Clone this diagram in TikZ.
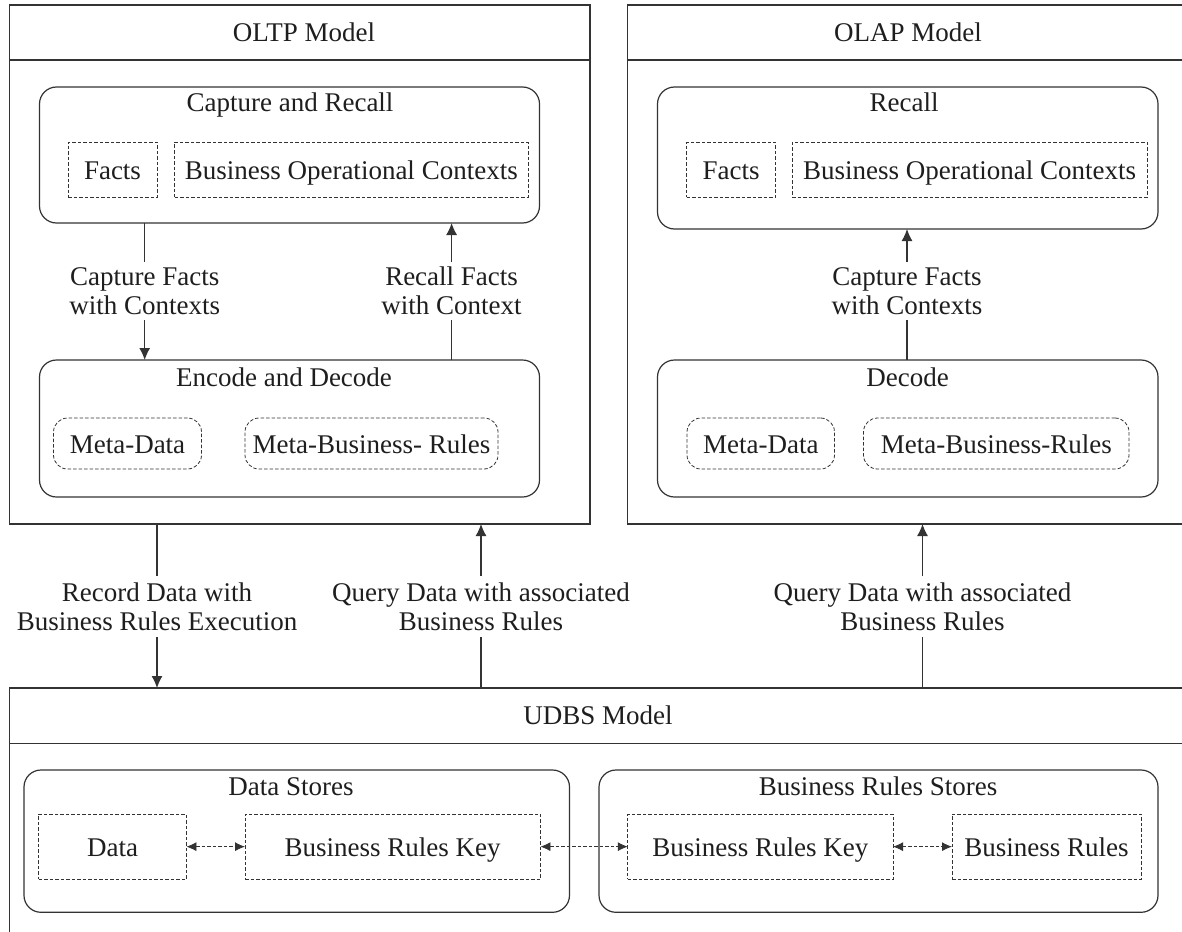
\documentclass[tikz,border=0pt]{standalone}
\usepackage{fontspec}
\setmainfont{Liberation Serif}
\usetikzlibrary{arrows.meta}
\definecolor{ln}{HTML}{333333}
\definecolor{tx}{HTML}{1E1E1E}
\begin{document}
\begin{tikzpicture}[x=1pt,y=-1pt,
  every node/.style={font=\fontsize{27}{29}\selectfont, text=tx, inner sep=0pt, outer sep=0pt},
  box/.style={draw=ln, line width=1.2pt, rectangle, anchor=north west},
  rbox/.style={box, rounded corners=17pt},
  dbox/.style={draw=ln, line width=0.8pt, dash pattern=on 3.5pt off 2pt, rectangle, anchor=north west},
  drbox/.style={dbox, rounded corners=14pt},
  ttl/.style={anchor=base},
  inner/.style={anchor=base, yshift=-9.5pt},
  lbla/.style={align=center, minimum height=58pt},
  lblb/.style={align=center, minimum height=61pt},
  arr/.style={draw=ln, line width=1.2pt, -{Latex[length=12pt,width=11pt]}},
  conn/.style={draw=ln, line width=1.2pt},
  darr/.style={draw=ln, line width=0.8pt, dash pattern=on 3.5pt off 2pt, {Latex[length=10pt,width=9pt]}-{Latex[length=10pt,width=9pt]}}
]
\useasboundingbox (0,0) rectangle (1182,931);
\clip (0,0) rectangle (1182,931);

% ---------- OLTP ----------
\node[box, minimum width=580.5pt, minimum height=519pt] (oltp) at (9.5,5) {};
\node[box, minimum width=580.5pt, minimum height=55pt] (oltph) at (9.5,5) {};
\node[ttl] (oltpt) at (304,41.5) {OLTP Model};

\node[rbox, minimum width=500pt, minimum height=136pt] (cr) at (39.5,87) {};
\node[ttl] (crt) at (290,112) {Capture and Recall};
\node[dbox, minimum width=89pt, minimum height=55pt] (facts1) at (68,142) {};
\node[inner] at (facts1.center) {Facts};
\node[dbox, minimum width=353.5pt, minimum height=55pt] (boc1) at (174.5,142) {};
\node[inner] at (boc1.center) {Business Operational Contexts};

\node[rbox, minimum width=500pt, minimum height=137pt] (ed) at (39.5,360) {};
\node[ttl] (edt) at (284,386) {Encode and Decode};
\node[drbox, minimum width=148pt, minimum height=51pt] (md1) at (53.5,418) {};
\node[inner] at (md1.center) {Meta-Data};
\node[drbox, minimum width=253pt, minimum height=51pt] (mbr1) at (245,418) {};
\node[inner] at (mbr1.center) {Meta-Business- Rules};

\node[lbla] (lblA) at (144.7,291) {Capture Facts\\with Contexts};
\draw[conn] (cr.south -| lblA) -- (lblA.north);
\draw[arr] (lblA.south) -- (ed.north -| lblA);

\node[lbla] (lblB) at (451.6,291) {Recall Facts\\with Context};
\draw[conn] (ed.north -| lblB) -- (lblB.south);
\draw[arr] (lblB.north) -- (cr.south -| lblB);

% ---------- OLAP ----------
\node[box, minimum width=562pt, minimum height=519pt] (olap) at (627.5,5) {};
\node[box, minimum width=562pt, minimum height=55pt] (olaph) at (627.5,5) {};
\node[ttl] (olapt) at (908,41.5) {OLAP Model};

\node[rbox, minimum width=500.5pt, minimum height=142pt] (rc) at (657.5,87) {};
\node[ttl] (rct) at (904,112) {Recall};
\node[dbox, minimum width=89pt, minimum height=55pt] (facts2) at (686.5,142) {};
\node[inner] at (facts2.center) {Facts};
\node[dbox, minimum width=355pt, minimum height=55pt] (boc2) at (792,142) {};
\node[inner] at (boc2.center) {Business Operational Contexts};

\node[rbox, minimum width=500.5pt, minimum height=137pt] (dc) at (657.5,360) {};
\node[ttl] (dct) at (907.5,386) {Decode};
\node[drbox, minimum width=147.5pt, minimum height=51pt] (md2) at (687,418) {};
\node[inner] at (md2.center) {Meta-Data};
\node[drbox, minimum width=265.5pt, minimum height=51pt] (mbr2) at (863.5,418) {};
\node[inner] at (mbr2.center) {Meta-Business-Rules};

\node[lbla] (lblC) at (907,291) {Capture Facts\\with Contexts};
\draw[conn] (dc.north -| lblC) -- (lblC.south);
\draw[arr] (lblC.north) -- (rc.south -| lblC);

% ---------- UDBS ----------
\node[box, minimum width=1180pt, minimum height=270pt] (udbs) at (9.5,688) {};
\node[box, minimum width=1180pt, minimum height=55.5pt] (udbsh) at (9.5,688) {};
\node[ttl] (udbst) at (598,724.5) {UDBS Model};

\node[rbox, minimum width=545.5pt, minimum height=142.3pt] (ds) at (24,770) {};
\node[ttl] (dst) at (291,795) {Data Stores};
\node[dbox, minimum width=147.7pt, minimum height=65.3pt] (data) at (38.7,814) {};
\node[inner] at (data.center) {Data};
\node[dbox, minimum width=295.4pt, minimum height=65.3pt] (brk1) at (245,814) {};
\node[inner] at (brk1.center) {Business Rules Key};

\node[rbox, minimum width=559pt, minimum height=142.3pt] (brs) at (599,770) {};
\node[ttl] (brst) at (878,795) {Business Rules Stores};
\node[dbox, minimum width=265.2pt, minimum height=65.3pt] (brk2) at (627.8,814) {};
\node[inner] at (brk2.center) {Business Rules Key};
\node[dbox, minimum width=189pt, minimum height=65.3pt] (br) at (952,814) {};
\node[inner] at (br.center) {Business Rules};

\draw[darr] (data.east) -- (brk1.west);
\draw[darr] (brk1.east) -- (brk2.west);
\draw[darr] (brk2.east) -- (br.west);

% ---------- between layers ----------
\node[lblb] (lblD) at (157,606.5) {Record Data with\\Business Rules Execution};
\draw[conn] (oltp.south -| lblD) -- (lblD.north);
\draw[arr] (lblD.south) -- (udbs.north -| lblD);

\node[lblb] (lblE) at (481,606.5) {Query Data with associated\\Business Rules};
\draw[conn] (udbs.north -| lblE) -- (lblE.south);
\draw[arr] (lblE.north) -- (oltp.south -| lblE);

\node[lblb] (lblF) at (922.5,606.5) {Query Data with associated\\Business Rules};
\draw[conn] (udbs.north -| lblF) -- (lblF.south);
\draw[arr] (lblF.north) -- (olap.south -| lblF);
\end{tikzpicture}
\end{document}
